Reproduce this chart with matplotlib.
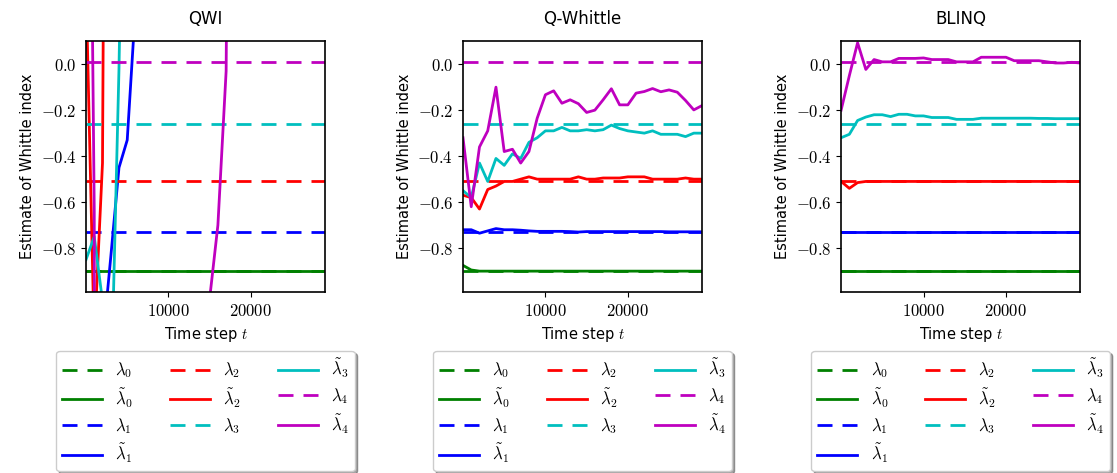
import numpy as np
import matplotlib
matplotlib.use("Agg")
import matplotlib.pyplot as plt
from matplotlib.ticker import FuncFormatter

plt.rcParams['mathtext.fontset'] = 'cm'
plt.rcParams['font.family'] = ['DejaVu Sans']

# time steps (one estimate every 1000 steps)
steps = np.arange(0, 30000, 1000)

# true Whittle indices (dashed)
true_idx = [-0.90, -0.73, -0.51, -0.26, 0.01]

# QWI estimates (diverge, mostly outside the shown range)
qwi_0 = [-0.90] * 30
qwi_1 = [-1.5, -2.0, -1.22, -0.84, -0.45, -0.33, 0.25, 3, 8, 14, 20, 27, 34, 41, 48,
         55, 62, 69, 76, 83, 90, 97, 104, 111, 118, 125, 132, 139, 146, 153]
qwi_2 = [0.35, -1.2, -0.43, 6, 15, 25, 35, 45, 55, 65, 75, 85, 95, 105, 115,
         125, 135, 145, 155, 165, 175, 185, 195, 205, 215, 225, 235, 245, 255, 265]
qwi_3 = [-0.85, -0.75, -1.03, -1.49, -0.02, 2, 6, 10, 14, 18, 22, 26, 30, 34, 38,
         42, 46, 50, 54, 58, 62, 66, 70, 74, 78, 82, 86, 90, 94, 98]
qwi_4 = [3.0, -0.64, -40, -38, -35, -32, -29, -26, -23, -20, -16, -12, -8, -5, -3,
         -1.02, -0.70, -0.03, 5, 12, 20, 28, 36, 44, 52, 60, 68, 76, 84, 92]

# Q-Whittle estimates
qw_0 = [-0.875, -0.895] + [-0.90] * 28
qw_1 = [-0.72, -0.72, -0.735, -0.725, -0.715, -0.72, -0.72, -0.722, -0.725, -0.727,
        -0.727, -0.727, -0.727, -0.728, -0.73, -0.728, -0.728, -0.728, -0.728, -0.728,
        -0.728, -0.728, -0.728, -0.728, -0.728, -0.729, -0.729, -0.729, -0.729, -0.729]
qw_2 = [-0.57, -0.58, -0.63, -0.545, -0.53, -0.51, -0.51, -0.50, -0.49, -0.50,
        -0.50, -0.50, -0.50, -0.50, -0.49, -0.50, -0.50, -0.495, -0.495, -0.495,
        -0.49, -0.49, -0.49, -0.50, -0.50, -0.50, -0.50, -0.495, -0.50, -0.50]
qw_3 = [-0.55, -0.58, -0.43, -0.51, -0.41, -0.44, -0.39, -0.41, -0.34, -0.32,
        -0.29, -0.29, -0.275, -0.29, -0.29, -0.285, -0.29, -0.285, -0.265, -0.28,
        -0.29, -0.295, -0.30, -0.29, -0.305, -0.305, -0.305, -0.315, -0.30, -0.30]
qw_4 = [-0.32, -0.62, -0.36, -0.29, -0.10, -0.38, -0.37, -0.43, -0.38, -0.235,
        -0.133, -0.116, -0.17, -0.155, -0.172, -0.21, -0.20, -0.155, -0.107, -0.177,
        -0.177, -0.126, -0.119, -0.106, -0.12, -0.112, -0.122, -0.158, -0.199, -0.18]

# BLINQ estimates
bq_0 = [-0.90] * 30
bq_1 = [-0.73] * 30
bq_2 = [-0.51, -0.54, -0.515, -0.51] + [-0.51] * 26
bq_3 = [-0.32, -0.305, -0.245, -0.23, -0.22, -0.22, -0.228, -0.218, -0.218, -0.225,
        -0.225, -0.232, -0.232, -0.232, -0.24, -0.24, -0.24, -0.235, -0.235, -0.235,
        -0.235, -0.235, -0.235, -0.235, -0.236, -0.236, -0.237, -0.237, -0.237, -0.237]
bq_4 = [-0.20, -0.05, 0.093, -0.023, 0.02, 0.01, 0.01, 0.025, 0.025, 0.025,
        0.027, 0.02, 0.02, 0.02, 0.01, 0.01, 0.01, 0.03, 0.03, 0.03,
        0.03, 0.015, 0.015, 0.015, 0.015, 0.01, 0.005, 0.005, 0.008, 0.005]

titles = ['QWI', 'Q-Whittle', 'BLINQ']
estimates = [[qwi_0, qwi_1, qwi_2, qwi_3, qwi_4],
             [qw_0, qw_1, qw_2, qw_3, qw_4],
             [bq_0, bq_1, bq_2, bq_3, bq_4]]
colors = ['g', 'b', 'r', 'c', 'm']

fig = plt.figure(figsize=(11.17, 4.73), dpi=100)
lefts = [0.077, 0.4145, 0.753]

for k in range(3):
    ax = fig.add_axes([lefts[k], 0.383, 0.214, 0.530])
    for i in range(5):
        ax.plot(steps, [true_idx[i]] * len(steps), color=colors[i], lw=2,
                ls='--', dashes=(5.4, 3.6), label=r'$\lambda_%d$' % i)
        ax.plot(steps, estimates[k][i], color=colors[i], lw=2,
                label=r'$\tilde{\lambda}_%d$' % i)
    ax.set_xlim(0, 29000)
    ax.set_ylim(-0.99, 0.10)
    ax.set_xticks([10000, 20000])
    ax.set_yticks([0.0, -0.2, -0.4, -0.6, -0.8])
    ax.xaxis.set_major_formatter(FuncFormatter(lambda v, p: r'$%d$' % v))
    ax.yaxis.set_major_formatter(FuncFormatter(lambda v, p: r'$%.1f$' % v))
    ax.tick_params(labelsize=12)
    for s in ax.spines.values():
        s.set_linewidth(1.2)
    ax.set_title(titles[k], fontsize=12, pad=12)
    ax.set_ylabel('Estimate of Whittle index', fontsize=10.5)
    ax.set_xlabel('Time step $t$', fontsize=10.5)
    ax.legend(loc='upper center', bbox_to_anchor=(0.5, -0.215), ncol=3,
              fontsize=12, shadow=True, fancybox=True, handlelength=2.4,
              columnspacing=2.2, labelspacing=0.35, borderaxespad=0.3,
              borderpad=0.35)

fig.savefig('out.png', dpi=100)
